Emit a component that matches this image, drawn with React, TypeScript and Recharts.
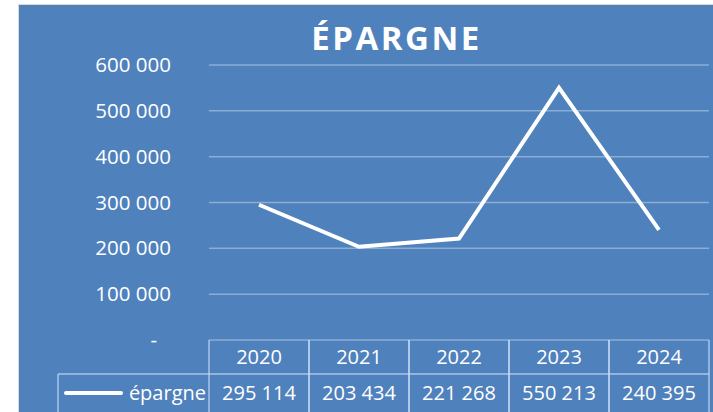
import { LineChart, Line, XAxis, YAxis, CartesianGrid } from "recharts";

const years = ["2020", "2021", "2022", "2023", "2024"];
const epargne = [295114, 203434, 221268, 550213, 240395];
const yTicks = [0, 100000, 200000, 300000, 400000, 500000, 600000];
const seriesName = "épargne";

const data = years.map((y, i) => ({ year: y, epargne: epargne[i] }));

const FONT = "'Open Sans', sans-serif";
const BLUE = "#4F81BD";
const GRID = "rgba(255,255,255,0.35)";
const TABLE_LINE = "rgba(200,220,245,0.75)";
const COL_W = 100;
const AXIS_Y = 340;
const ROW_Y = 374;

const fmt = (v: number) =>
  v === 0 ? "-" : v.toString().replace(/\B(?=(\d{3})+(?!\d))/g, " ");

function YTick(props: any) {
  const { x, y, payload } = props;
  const v = payload.value as number;
  return (
    <text x={v === 0 ? x - 14 : x} y={y} dy={7} textAnchor="end" fill="#fff"
      fontFamily={FONT} fontSize={20.5}>
      {fmt(v)}
    </text>
  );
}

function TableTick(props: any) {
  const { x, payload, index } = props;
  const left = x - COL_W / 2;
  const right = x + COL_W / 2;
  return (
    <g>
      <line x1={left} y1={AXIS_Y} x2={left} y2={412} stroke={TABLE_LINE} strokeWidth={1.5} />
      <line x1={right} y1={AXIS_Y} x2={right} y2={412} stroke={TABLE_LINE} strokeWidth={1.5} />
      <line x1={left} y1={ROW_Y} x2={right} y2={ROW_Y} stroke={TABLE_LINE} strokeWidth={1.5} />
      <text x={x} y={364} textAnchor="middle" fill="#fff" fontFamily={FONT} fontSize={20}>
        {payload.value}
      </text>
      <text x={x} y={400} textAnchor="middle" fill="#fff" fontFamily={FONT} fontSize={20}>
        {fmt(epargne[index])}
      </text>
      {index === 0 && (
        <g>
          <line x1={58} y1={ROW_Y} x2={left} y2={ROW_Y} stroke={TABLE_LINE} strokeWidth={1.5} />
          <line x1={58} y1={ROW_Y} x2={58} y2={412} stroke={TABLE_LINE} strokeWidth={1.5} />
          <line x1={66} y1={393} x2={121} y2={393} stroke="#fff" strokeWidth={4} strokeLinecap="round" />
          <text x={left - 3} y={400} textAnchor="end" fill="#fff" fontFamily={FONT} fontSize={20}>
            {seriesName}
          </text>
        </g>
      )}
    </g>
  );
}

export default function App() {
  return (
    <div style={{ position: "relative", width: 713, height: 412, background: "#fff" }}>
      <style>{`body{margin:0}`}</style>
      <div style={{
        position: "absolute", left: 18, top: 4, width: 695, height: 408,
        background: BLUE, borderTop: "1px solid #d9d9d9", borderLeft: "1px solid #d9d9d9",
        boxSizing: "border-box",
      }} />
      <div style={{
        position: "absolute", left: 0, top: 15, width: 713, textAlign: "center",
        paddingLeft: 80, boxSizing: "border-box", lineHeight: "normal",
        color: "#fff", fontFamily: FONT, fontWeight: 700, fontSize: 33, letterSpacing: 2.5,
      }}>
        ÉPARGNE
      </div>
      <LineChart width={713} height={412} data={data}
        margin={{ top: 65, right: 4, left: 0, bottom: 0 }}
        style={{ position: "absolute", left: 0, top: 0 }}>
        <CartesianGrid vertical={false} stroke={GRID} strokeWidth={1.5} />
        <XAxis dataKey="year" axisLine={false} tickLine={false} height={72}
          padding={{ left: 50, right: 50 }} tick={<TableTick />} interval={0} />
        <YAxis width={209} domain={[0, 600000]} ticks={yTicks} axisLine={false}
          tickLine={false} tickSize={0} tickMargin={38} tick={<YTick />} />
        <Line type="linear" dataKey="epargne" stroke="#fff" strokeWidth={4}
          dot={false} isAnimationActive={false} />
      </LineChart>
    </div>
  );
}
